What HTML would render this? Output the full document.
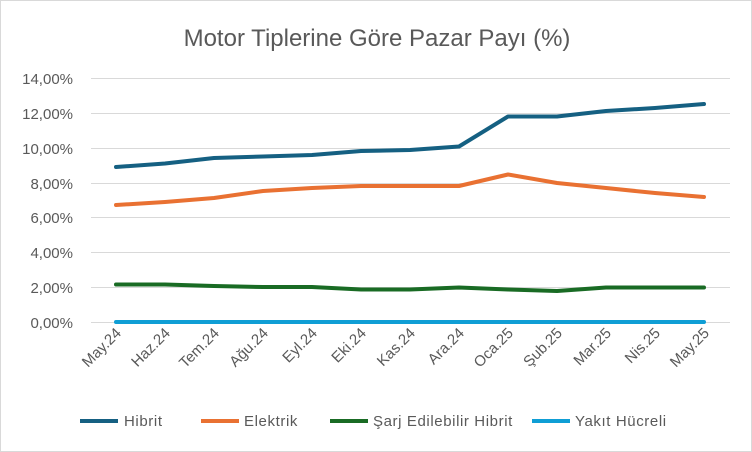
<!DOCTYPE html>
<html><head><meta charset="utf-8"><style>
body{margin:0;background:#fff;}
svg{display:block;font-family:"Liberation Sans",sans-serif;}
</style></head><body>
<svg width="752" height="452" viewBox="0 0 752 452">
<rect x="0.5" y="0.5" width="751" height="451" fill="#fff" stroke="#d9d9d9"/>
<text x="377" y="46" text-anchor="middle" font-size="24" fill="#595959">Motor Tiplerine Göre Pazar Payı (%)</text>
<g stroke="#d9d9d9" stroke-width="1">
<line x1="91" x2="730" y1="78.5" y2="78.5"/><line x1="91" x2="730" y1="113.5" y2="113.5"/>
<line x1="91" x2="730" y1="148.5" y2="148.5"/><line x1="91" x2="730" y1="183.5" y2="183.5"/>
<line x1="91" x2="730" y1="217.5" y2="217.5"/><line x1="91" x2="730" y1="252.5" y2="252.5"/>
<line x1="91" x2="730" y1="287.5" y2="287.5"/><line x1="91" x2="730" y1="322.5" y2="322.5"/>
</g>
<g font-size="15" fill="#595959" text-anchor="end">
<text x="73" y="84">14,00%</text><text x="73" y="119">12,00%</text><text x="73" y="154">10,00%</text>
<text x="73" y="189">8,00%</text><text x="73" y="223">6,00%</text><text x="73" y="258">4,00%</text>
<text x="73" y="293">2,00%</text><text x="73" y="328">0,00%</text>
</g>
<g font-size="15" fill="#595959" text-anchor="end">
<text transform="translate(122,334) rotate(-45)">May.24</text>
<text transform="translate(171,334) rotate(-45)">Haz.24</text>
<text transform="translate(220,334) rotate(-45)">Tem.24</text>
<text transform="translate(269,334) rotate(-45)">Ağu.24</text>
<text transform="translate(318,334) rotate(-45)">Eyl.24</text>
<text transform="translate(367,334) rotate(-45)">Eki.24</text>
<text transform="translate(416,334) rotate(-45)">Kas.24</text>
<text transform="translate(465,334) rotate(-45)">Ara.24</text>
<text transform="translate(514,334) rotate(-45)">Oca.25</text>
<text transform="translate(563,334) rotate(-45)">Şub.25</text>
<text transform="translate(612,334) rotate(-45)">Mar.25</text>
<text transform="translate(661,334) rotate(-45)">Nis.25</text>
<text transform="translate(710,334) rotate(-45)">May.25</text>
</g>
<g fill="none" stroke-width="4" stroke-linejoin="round" stroke-linecap="round">
<polyline stroke="#156082" points="116,167 165,163.5 214,158 263,156.5 312,155 361,151 410,150 459,146.5 508,116.5 557,116.5 606,111 655,108 704,104"/>
<polyline stroke="#E97132" points="116,205 165,202 214,198 263,191 312,188 361,186 410,186 459,186 508,174.5 557,183 606,188 655,193 704,197"/>
<polyline stroke="#196B24" points="116,284.5 165,284.5 214,286 263,287 312,287 361,289.5 410,289.5 459,287.5 508,289.5 557,291 606,287.5 655,287.5 704,287.5"/>
<polyline stroke="#0F9ED5" points="116,322 704,322"/>
</g>
<g stroke-width="4">
<line x1="80" x2="118" y1="421" y2="421" stroke="#156082"/>
<line x1="201" x2="239" y1="421" y2="421" stroke="#E97132"/>
<line x1="330" x2="368" y1="421" y2="421" stroke="#196B24"/>
<line x1="532" x2="570" y1="421" y2="421" stroke="#0F9ED5"/>
</g>
<g font-size="15" fill="#595959" letter-spacing="0.6">
<text x="124" y="426">Hibrit</text><text x="244" y="426">Elektrik</text>
<text x="373" y="426">Şarj Edilebilir Hibrit</text><text x="575" y="426">Yakıt Hücreli</text>
</g>
</svg>
</body></html>
